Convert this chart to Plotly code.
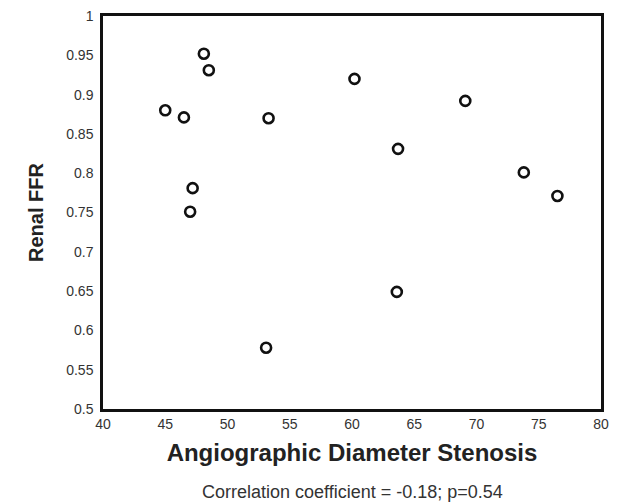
import plotly.graph_objects as go

stenosis = [45.0, 46.5, 48.1, 48.5, 47.2, 47.0, 53.3, 60.2, 69.1, 63.7, 73.8, 76.5, 53.1, 63.6]
renal_ffr = [0.880, 0.871, 0.952, 0.931, 0.781, 0.751, 0.870, 0.920, 0.892, 0.831, 0.801, 0.771, 0.578, 0.649]

x_ticks = [40, 45, 50, 55, 60, 65, 70, 75, 80]
y_ticks = [0.5, 0.55, 0.6, 0.65, 0.7, 0.75, 0.8, 0.85, 0.9, 0.95, 1]
y_labels = ["0.5", "0.55", "0.6", "0.65", "0.7", "0.75", "0.8", "0.85", "0.9", "0.95", "1"]

fig = go.Figure()
fig.add_trace(go.Scatter(
    x=stenosis, y=renal_ffr, mode="markers",
    marker=dict(symbol="circle-open", size=10, color="#111111", line=dict(width=2.6, color="#111111")),
    showlegend=False,
))

fig.update_layout(
    width=619, height=502,
    margin=dict(l=103, r=18, t=16, b=93),
    paper_bgcolor="white", plot_bgcolor="white",
    font=dict(family="Liberation Sans, Arial, sans-serif", color="#222222"),
    xaxis=dict(
        range=[40, 80], tickvals=x_ticks, ticktext=[str(v) for v in x_ticks],
        showgrid=False, zeroline=False, showline=True, linecolor="#111111", linewidth=2.5,
        mirror=True, ticks="", tickfont=dict(size=14, color="#333333"),
        title=dict(text="<b>Angiographic Diameter Stenosis</b>", font=dict(size=24, color="#222222"), standoff=14),
        automargin=False,
    ),
    yaxis=dict(
        range=[0.5, 1], tickvals=y_ticks, ticktext=y_labels,
        showgrid=False, zeroline=False, showline=True, linecolor="#111111", linewidth=2.5,
        mirror=True, ticks="", tickfont=dict(size=14, color="#333333"), ticklabelstandoff=4,
        title=dict(text="<b>Renal FFR</b>", font=dict(size=20, color="#222222"), standoff=18),
        automargin=False,
    ),
    annotations=[dict(
        text="Correlation coefficient = -0.18; p=0.54",
        xref="paper", yref="paper", x=0.5, y=-83 / 393, yanchor="middle", xanchor="center",
        showarrow=False, font=dict(size=18, color="#333333"),
    )],
)

fig.write_html("out.html", config={"displayModeBar": False},
               post_script="document.body.style.margin='0';document.body.style.overflow='hidden';")
